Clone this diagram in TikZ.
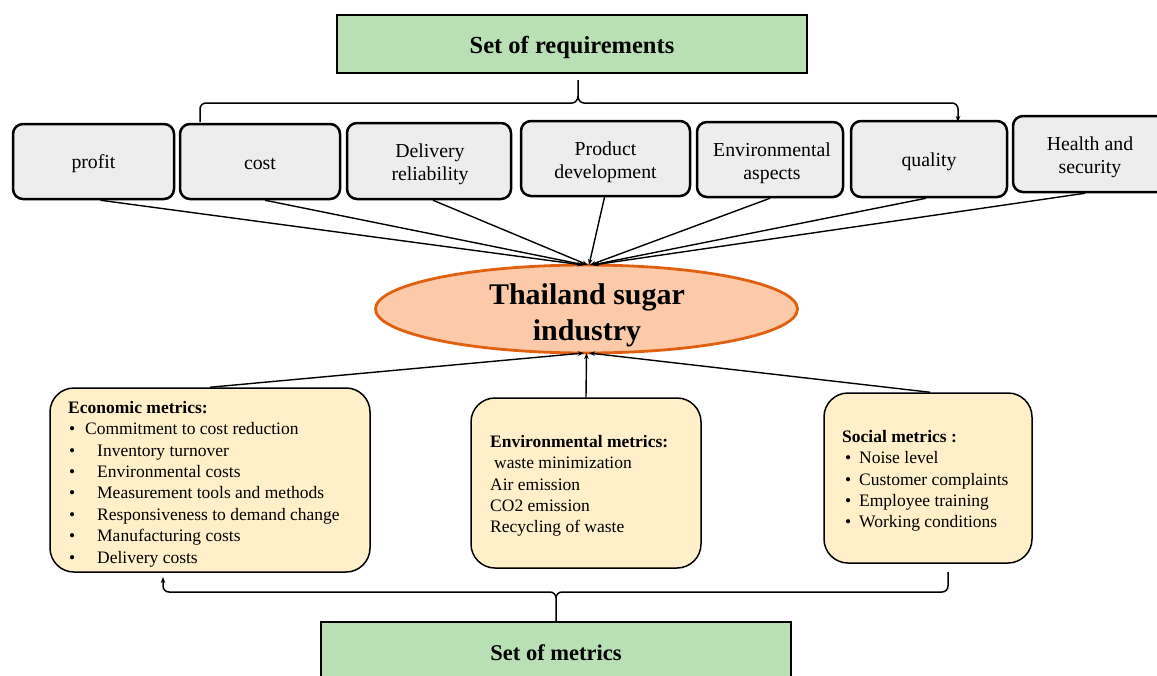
\documentclass[tikz,border=0pt]{standalone}
\usepackage{fontspec}
\setmainfont{Liberation Serif}
\usetikzlibrary{arrows.meta,shapes.geometric}
\definecolor{greenfill}{HTML}{B9E0B5}
\definecolor{greyfill}{HTML}{EDEDED}
\definecolor{creamfill}{HTML}{FFF0C9}
\definecolor{ellfill}{HTML}{FCCAA9}
\definecolor{ellborder}{HTML}{E0600F}
\tikzset{
  setbox/.style={draw=black, line width=1.5pt, fill=greenfill, inner sep=0pt},
  reqbox/.style={draw=black, line width=2.5pt, fill=greyfill, rounded corners=10pt, inner sep=0pt, align=center, font=\fontsize{19.8}{23}\selectfont},
  metbox/.style={draw=black, line width=1.5pt, fill=creamfill, rounded corners=24pt, inner sep=0pt},
  mettext/.style={anchor=north west, align=left, inner sep=0pt, font=\fontsize{17.5}{21.4}\selectfont},
  conn/.style={line width=1.4pt, -{Stealth[length=6pt,width=4.5pt]}},
  brace/.style={line width=1.5pt},
}
\newcommand{\bul}[1]{\makebox[#1][l]{\textbullet}}
\begin{document}
\begin{tikzpicture}[x=1pt,y=-1pt]
\useasboundingbox (0,0) rectangle (1157,675);
\fill[white] (0,0) rectangle (1157,675);

% top set box
\node[setbox, minimum width=470pt, minimum height=58pt] (req) at (572,44) {};
\node[font=\fontsize{24.5}{28}\selectfont\bfseries, inner sep=0pt] (reqt) at (572,47) {Set of requirements};

% requirement boxes
\node[reqbox, minimum width=161pt, minimum height=75pt, text depth=0pt] (profit) at (93.5,161.5) {};
\node[font=\fontsize{19.8}{23}\selectfont] (profitt) at (93.5,164) {profit};
\node[reqbox, minimum width=160pt, minimum height=75pt] (cost) at (260,161.5) {};
\node[font=\fontsize{19.8}{23}\selectfont] (costt) at (260,164) {cost};
\node[reqbox, minimum width=164pt, minimum height=76pt] (deliv) at (429,161) {};
\node[font=\fontsize{19.8}{23}\selectfont, align=center] (delivt) at (430,164) {Delivery\\reliability};
\node[reqbox, minimum width=169pt, minimum height=75pt] (prod) at (605.5,158.5) {};
\node[font=\fontsize{19.8}{23}\selectfont, align=center] (prodt) at (605.5,162) {Product\\development};
\node[reqbox, minimum width=146pt, minimum height=75pt] (envasp) at (770,159.5) {};
\node[font=\fontsize{19.8}{23}\selectfont, align=center] (envaspt) at (772,163) {Environmental\\aspects};
\node[reqbox, minimum width=156pt, minimum height=76pt] (qual) at (929,159) {};
\node[font=\fontsize{19.8}{23}\selectfont] (qualt) at (929,162) {quality};
\node[reqbox, minimum width=160pt, minimum height=76pt] (health) at (1093,154) {};
\node[font=\fontsize{19.8}{23}\selectfont, align=center] (healtht) at (1090,157.5) {Health and\\security};

% ellipse
\node[ellipse, draw=ellborder, line width=2.8pt, fill=ellfill, minimum width=422pt, minimum height=88pt, inner sep=0pt] (thai) at (586.5,309) {};
\node[align=center, inner sep=0pt, font=\fontsize{30}{36}\selectfont\bfseries] (thait) at (587,315) {Thailand sugar\\industry};

% metric boxes
\node[metbox, minimum width=320pt, minimum height=184pt] (econ) at (210,480) {};
\node[metbox, minimum width=230pt, minimum height=170pt] (envm) at (586,483) {};
\node[metbox, minimum width=208pt, minimum height=170pt] (soc) at (928,478) {};

\node[mettext] (econt) at (68,401) {\textbf{Economic metrics:}\\
\hspace*{1pt}\bul{16pt}Commitment to cost reduction\\
\hspace*{1pt}\bul{28pt}Inventory turnover\\
\hspace*{1pt}\bul{28pt}Environmental costs\\
\hspace*{1pt}\bul{28pt}Measurement tools and methods\\
\hspace*{1pt}\bul{28pt}Responsiveness to demand change\\
\hspace*{1pt}\bul{28pt}Manufacturing costs\\
\hspace*{1pt}\bul{28pt}Delivery costs};

\node[mettext] (envt) at (490,435) {\textbf{Environmental metrics:}\\
\hspace*{4pt}waste minimization\\
Air emission\\
CO2 emission\\
Recycling of waste};

\node[mettext] (soct) at (842,430) {\textbf{Social metrics :}\\
\hspace*{3pt}\bul{14pt}Noise level\\
\hspace*{3pt}\bul{14pt}Customer complaints\\
\hspace*{3pt}\bul{14pt}Employee training\\
\hspace*{3pt}\bul{14pt}Working conditions};

% bottom set box
\node[setbox, minimum width=470pt, minimum height=70pt] (met) at (556,657) {};
\node[font=\fontsize{22.5}{26}\selectfont\bfseries, inner sep=0pt] (mett) at (556,653) {Set of metrics};

% connectors from requirement boxes to the ellipse
\coordinate (t1) at (583,265);
\coordinate (t2) at (585,265);
\coordinate (t3) at (588,265);
\coordinate (t4) at (589,265);
\coordinate (t5) at (590,265);
\coordinate (t6) at (592,265);
\coordinate (t7) at (593,265);
\draw[conn] ([xshift=7pt]profit.south) -- (t1);
\draw[conn] ([xshift=5pt]cost.south) -- (t2);
\draw[conn] ([xshift=4pt]deliv.south) -- (t3);
\draw[conn] ([xshift=-1pt]prod.south) -- (t4);
\draw[conn] (envasp.south) -- (t5);
\draw[conn] ([xshift=-3pt]qual.south) -- (t6);
\draw[conn] ([xshift=-8pt]health.south) -- (t7);

% connectors from metric boxes to the ellipse
\coordinate (b1) at (584,353);
\coordinate (b2) at (586.5,353);
\coordinate (b3) at (589,353);
\draw[conn] (econ.north) -- (b1);
\draw[conn] (envm.north) -- (b2);
\draw[conn] ([xshift=2pt]soc.north) -- (b3);

% top brace
\coordinate (rs) at (578,80);
\coordinate (rl) at (200,122);
\coordinate (rr) at (958,122);
\draw[brace] (rs) -- (578,96) to[out=-90,in=0] (572,103) -- (206,103) to[out=180,in=90] (200,109) -- (rl);
\draw[brace, -{Stealth[length=6pt,width=4.5pt]}] (578,96) to[out=-90,in=180] (584,103) -- (952,103) to[out=0,in=90] (958,109) -- (rr);

% bottom brace
\coordinate (ms) at (556,622);
\coordinate (ml) at (163,577);
\coordinate (mr) at (948,572);
\draw[brace, -{Stealth[length=6pt,width=4.5pt]}] (ms) -- (556,598) to[out=90,in=0] (550,592) -- (169,592) to[out=180,in=-90] (163,586) -- (ml);
\draw[brace] (556,598) to[out=90,in=180] (562,592) -- (942,592) to[out=0,in=-90] (948,586) -- (mr);
\end{tikzpicture}
\end{document}
